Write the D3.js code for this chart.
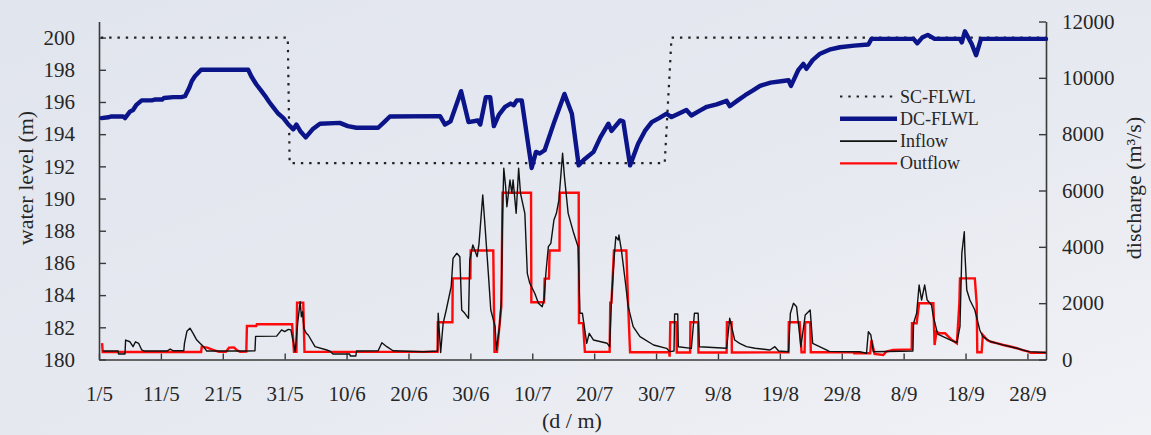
<!DOCTYPE html>
<html>
<head>
<meta charset="utf-8">
<script src="https://cdn.jsdelivr.net/npm/d3@7"></script>
<style>
  html, body { margin: 0; padding: 0; }
  body { width: 1151px; height: 435px; overflow: hidden; }
  svg text { font-family: "Liberation Serif", "Times New Roman", serif; fill: #262626; }
</style>
</head>
<body>
<svg id="chart" width="1151" height="435"></svg>
<script>
// Days counted from 1 May; ticks every ten days
const tickDays = [0, 10, 20, 30, 40, 50, 60, 70, 80, 90, 100, 110, 120, 130, 140, 150];
const tickLabels = ["1/5", "11/5", "21/5", "31/5", "10/6", "20/6", "30/6", "10/7", "20/7", "30/7",
                    "9/8", "19/8", "29/8", "8/9", "18/9", "28/9"];
const levelTicks = [180, 182, 184, 186, 188, 190, 192, 194, 196, 198, 200];
const flowTicks = [0, 2000, 4000, 6000, 8000, 10000, 12000];

// Static-control flood limited water level (m)
const scFlwl = [[0.3, 200], [30.5, 200], [30.8, 192.2], [91.4, 192.2], [92.5, 200], [153, 200]];

// Dynamic-control flood limited water level (m)
const dcFlwl = [
  [0.4, 195.0], [1.5, 195.05], [2.0, 195.1], [3.9, 195.1], [4.2, 195.0], [4.6, 195.2], [5.0, 195.4],
  [5.5, 195.5], [6.0, 195.8], [6.9, 196.1], [8.5, 196.1], [9.0, 196.15], [10.2, 196.15], [10.5, 196.25],
  [12.0, 196.3], [13.3, 196.3], [13.9, 196.36], [14.6, 196.9], [15.0, 197.3], [15.5, 197.6],
  [16.5, 198.0], [24.1, 198.0], [24.6, 197.6], [25.4, 197.1], [26.2, 196.7], [26.8, 196.4],
  [27.5, 196.0], [28.1, 195.7], [28.9, 195.3], [29.8, 195.0], [30.6, 194.6], [31.4, 194.3],
  [31.9, 194.6], [32.5, 194.2], [33.4, 193.8], [34.5, 194.3], [35.7, 194.65], [38.9, 194.7],
  [40.2, 194.5], [41.6, 194.4], [45.1, 194.4], [46.2, 194.8], [47.0, 195.1], [55.1, 195.12],
  [55.9, 194.6], [56.8, 194.8], [58.5, 196.67], [59.7, 194.75], [61.2, 194.85], [61.6, 194.6],
  [62.5, 196.3], [63.2, 196.3], [63.8, 194.5], [64.6, 195.2], [65.6, 195.7], [66.5, 195.9],
  [67.0, 195.8], [67.5, 196.1], [68.3, 196.1], [69.9, 191.9], [70.6, 192.9], [71.2, 192.8],
  [72.0, 193.0], [73.5, 194.7], [75.2, 196.5], [76.4, 195.27], [77.5, 192.06], [78.3, 192.4],
  [79.9, 192.9], [81.0, 193.8], [82.3, 194.65], [82.8, 194.2], [84.2, 194.85], [84.7, 194.8],
  [85.8, 192.06], [87.1, 193.4], [88.2, 194.2], [89.3, 194.75], [90.5, 195.0], [91.7, 195.27],
  [92.5, 195.06], [93.8, 195.3], [94.9, 195.5], [95.7, 195.16], [97.0, 195.45], [98.2, 195.7],
  [99.8, 195.85], [101.4, 196.07], [101.9, 195.74], [103.2, 196.1], [104.4, 196.42], [105.6, 196.7],
  [106.8, 197.0], [108.5, 197.2], [110.5, 197.3], [111.4, 197.35], [111.8, 197.0], [113.0, 198.0],
  [113.8, 198.37], [114.3, 198.06], [115.3, 198.6], [116.5, 199.0], [118.0, 199.25], [119.7, 199.4],
  [122.0, 199.5], [124.3, 199.57], [124.8, 199.92], [131.6, 199.92], [132.2, 199.65], [133.0, 200.0],
  [133.9, 200.17], [135.0, 199.92], [139.1, 199.92], [139.4, 199.7], [139.9, 200.39], [141.0, 199.6],
  [141.7, 198.9], [142.5, 199.92], [153, 199.92]
];

// Reservoir inflow (m3/s)
const inflow = [
  [0.6, 300], [3.1, 300], [3.15, 195], [4.2, 195], [4.3, 690], [5.0, 630], [5.5, 455], [5.9, 630],
  [6.4, 575], [6.9, 340], [7.3, 300], [11.0, 300], [11.5, 373], [12.0, 310], [13.7, 310], [13.8, 560],
  [14.2, 1000], [14.7, 1110], [15.2, 930], [15.8, 690], [16.4, 560], [16.9, 455], [17.4, 300],
  [23.9, 300], [25.2, 312], [25.3, 820], [28.7, 830], [29.5, 1050], [30.0, 990], [30.6, 1070],
  [31.0, 1050], [31.4, 630], [31.7, 280], [32.1, 1300], [32.5, 2050], [32.7, 1520], [32.9, 1700],
  [33.1, 1100], [33.5, 930], [33.8, 870], [34.9, 455], [36.8, 337], [37.3, 300], [37.8, 195],
  [40.5, 195], [40.6, 124], [41.5, 124], [41.6, 300], [45.1, 312], [45.7, 597], [46.5, 455],
  [47.5, 312], [52.4, 277], [54.7, 300], [54.8, 1640], [55.2, 250], [55.6, 1285], [56.1, 1757],
  [56.9, 2585], [57.2, 3592], [57.8, 3770], [58.3, 3650], [58.6, 1757], [59.1, 1640], [59.7, 1462],
  [59.9, 3532], [60.4, 4065], [61.1, 3650], [61.4, 4125], [62.0, 5840], [62.3, 4952], [62.9, 3060],
  [63.3, 1757], [64.0, 1165], [64.2, 337], [64.7, 1165], [65.0, 2112], [65.2, 5190], [65.4, 6788],
  [65.7, 6134], [65.9, 5424], [66.4, 6372], [66.7, 5900], [66.9, 6372], [67.4, 5190], [67.8, 6788],
  [68.1, 5900], [68.8, 5190], [69.2, 3060], [69.6, 2705], [70.4, 2350], [71.0, 1995], [71.6, 1875],
  [71.9, 2112], [72.2, 3060], [72.6, 4005], [73.0, 4125], [73.5, 4952], [73.9, 5190], [74.3, 5662],
  [74.9, 7320], [75.2, 6490], [75.8, 5190], [76.7, 4480], [77.4, 4005], [77.7, 1640], [78.1, 1640],
  [78.8, 575], [79.2, 930], [79.9, 692], [82.1, 575], [82.5, 455], [82.8, 2112], [83.2, 3532],
  [83.5, 4360], [83.9, 4242], [84.0, 4420], [84.4, 3887], [85.0, 2822], [85.5, 1875], [86.3, 1165],
  [87.4, 810], [89.6, 515], [91.7, 396], [92.2, 280], [92.9, 300], [93.0, 1615], [93.5, 1615],
  [93.6, 455], [95.7, 396], [96.2, 1640], [96.8, 1640], [97.0, 455], [101.4, 400], [101.9, 1462],
  [102.7, 692], [103.5, 575], [104.6, 455], [106.0, 400], [108.4, 337], [109.2, 455], [109.8, 300],
  [111.4, 277], [111.7, 1640], [112.2, 1995], [112.7, 1875], [113.4, 455], [114.1, 1580],
  [114.9, 1757], [115.3, 575], [117.0, 396], [118.0, 290], [122.9, 277], [124.0, 220], [124.3, 987],
  [124.7, 870], [125.1, 277], [131.5, 300], [131.6, 1285], [132.1, 1640], [132.5, 2645],
  [132.9, 2112], [133.4, 2645], [133.8, 2112], [134.5, 1935], [134.8, 1520], [135.5, 900],
  [137.5, 700], [138.6, 600], [139.1, 1165], [139.4, 3770], [139.8, 4537], [139.9, 3770],
  [140.2, 2467], [140.7, 2112], [141.5, 1757], [142.3, 1047], [142.8, 810], [144.0, 640],
  [146.0, 520], [148.3, 400], [150.2, 280], [153, 250]
];

// Reservoir outflow (m3/s)
const outflow = [
  [0.5, 580], [0.6, 265], [16.5, 265], [16.6, 450], [17.5, 420], [18.4, 340], [19.4, 270],
  [20.5, 270], [21.0, 420], [21.8, 430], [22.3, 330], [22.8, 270], [23.8, 280], [23.9, 1190],
  [25.4, 1190], [25.5, 1250], [31.2, 1250], [31.5, 270], [31.9, 270], [32.0, 2020], [33.0, 2020],
  [33.2, 270], [54.7, 270], [54.75, 1320], [57.1, 1320], [57.15, 2880], [60.0, 2880], [60.05, 3870],
  [63.7, 3870], [63.9, 270], [64.3, 270], [65.0, 1880], [65.2, 5920], [69.8, 5920], [69.85, 2030],
  [71.9, 2030], [72.0, 2870], [72.7, 2870], [72.8, 3870], [74.4, 3870], [74.45, 5920], [77.5, 5920],
  [77.55, 1290], [78.2, 1290], [78.5, 270], [82.5, 270], [82.6, 2020], [82.8, 2020], [83.2, 3870],
  [85.2, 3870], [85.5, 1880], [85.8, 260], [92.1, 260], [92.2, 100], [92.3, 1320], [93.3, 1320],
  [93.35, 250], [95.5, 250], [95.55, 1320], [96.8, 1320], [96.85, 250], [101.4, 250], [101.45, 1320],
  [102.2, 1320], [102.25, 250], [111.4, 255], [111.45, 1320], [113.2, 1320], [113.5, 255],
  [114.0, 255], [114.1, 1320], [114.9, 1320], [115.0, 255], [121.9, 255], [122.0, 220], [124.6, 220],
  [124.8, 690], [125.3, 195], [126.7, 160], [127.2, 277], [128.3, 340], [131.3, 360], [131.35, 1285],
  [132.1, 1285], [132.5, 1995], [134.8, 1995], [135.0, 515], [135.3, 990], [135.8, 930], [136.7, 930],
  [137.8, 690], [138.6, 575], [139.0, 1995], [139.1, 2880], [141.5, 2880], [141.8, 1995], [141.9, 255],
  [142.6, 255], [142.8, 870], [143.5, 690], [144.1, 630], [145.0, 580], [146.1, 515], [147.2, 460],
  [148.3, 400], [149.2, 330], [150.2, 277], [150.5, 242], [153, 242]
];

const legendItems = ["SC-FLWL", "DC-FLWL", "Inflow", "Outflow"];

const svg = d3.select("#chart");
const W = 1151, H = 435;

// soft blue-grey backdrop
const defs = svg.append("defs");
const grad = defs.append("linearGradient").attr("id", "bg")
  .attr("x1", "0").attr("y1", "0").attr("x2", "1").attr("y2", "1");
grad.append("stop").attr("offset", "0").attr("stop-color", "#e1e5ee");
grad.append("stop").attr("offset", "0.55").attr("stop-color", "#e6e9f0");
grad.append("stop").attr("offset", "1").attr("stop-color", "#f1f2f6");
svg.append("rect").attr("width", W).attr("height", H).attr("fill", "url(#bg)");

const x = d3.scaleLinear().domain([0, 153]).range([99, 1046]);
const yLevel = d3.scaleLinear().domain([180, 201]).range([359.5, 21.5]);
const yFlow = d3.scaleLinear().domain([0, 12000]).range([359.5, 21.5]);

const axisColor = "#3a3a3a";
function styleAxis(g) {
  g.selectAll("path.domain").attr("stroke", axisColor).attr("stroke-width", 1.6);
  g.selectAll(".tick line").attr("stroke", axisColor).attr("stroke-width", 1.4);
  g.selectAll(".tick text").attr("font-size", 21).attr("fill", "#262626")
    .attr("font-family", "Liberation Serif, serif");
}

svg.append("g").attr("transform", "translate(0,359.5)")
  .call(d3.axisBottom(x).tickValues(tickDays).tickFormat((d, i) => tickLabels[i])
    .tickSizeInner(-6).tickSizeOuter(0).tickPadding(27))
  .call(styleAxis);

svg.append("g").attr("transform", "translate(99,0)")
  .call(d3.axisLeft(yLevel).tickValues(levelTicks).tickFormat(d3.format("d"))
    .tickSizeInner(-7).tickSizeOuter(0).tickPadding(24))
  .call(styleAxis);

svg.append("g").attr("transform", "translate(1046,0)")
  .call(d3.axisRight(yFlow).tickValues(flowTicks).tickFormat(d3.format("d"))
    .tickSizeInner(-7).tickSizeOuter(0).tickPadding(16))
  .call(styleAxis);

// axis titles
svg.append("text").attr("transform", "translate(33,178) rotate(-90)")
  .attr("text-anchor", "middle").attr("font-size", 22).text("water level (m)");
svg.append("text").attr("transform", "translate(1141,188) rotate(-90)")
  .attr("text-anchor", "middle").attr("font-size", 22).text("discharge (m³/s)");
svg.append("text").attr("x", 572).attr("y", 428)
  .attr("text-anchor", "middle").attr("font-size", 22).text("(d / m)");

const levelLine = d3.line().x(d => x(d[0])).y(d => yLevel(d[1]));
const flowLine = d3.line().x(d => x(d[0])).y(d => yFlow(d[1]));

svg.append("path").datum(scFlwl).attr("d", levelLine)
  .attr("fill", "none").attr("stroke", "#222").attr("stroke-width", 2.2)
  .attr("stroke-dasharray", "2.4,5.9");

svg.append("path").datum(outflow).attr("d", flowLine)
  .attr("fill", "none").attr("stroke", "#ff0a0a").attr("stroke-width", 2.4)
  .attr("stroke-linejoin", "miter");

svg.append("path").datum(inflow).attr("d", flowLine)
  .attr("fill", "none").attr("stroke", "#111").attr("stroke-width", 1.4)
  .attr("stroke-linejoin", "round");

svg.append("path").datum(dcFlwl).attr("d", levelLine)
  .attr("fill", "none").attr("stroke", "#0b1488").attr("stroke-width", 4.4)
  .attr("stroke-linejoin", "round").attr("stroke-linecap", "round");

// legend
const legendStyles = [
  { stroke: "#222", width: 2.2, dash: "2.4,5.9" },
  { stroke: "#0b1488", width: 4.6, dash: null },
  { stroke: "#111", width: 1.8, dash: null },
  { stroke: "#ff0a0a", width: 2.4, dash: null }
];
const legend = svg.append("g");
legendItems.forEach((name, i) => {
  const yy = 96.5 + i * 22.3;
  const s = legendStyles[i];
  const ln = legend.append("line").attr("x1", 840).attr("x2", 897).attr("y1", yy).attr("y2", yy)
    .attr("stroke", s.stroke).attr("stroke-width", s.width);
  if (s.dash) ln.attr("stroke-dasharray", s.dash);
  legend.append("text").attr("x", 900).attr("y", yy + 6).attr("font-size", 18).text(name);
});
</script>
</body>
</html>
